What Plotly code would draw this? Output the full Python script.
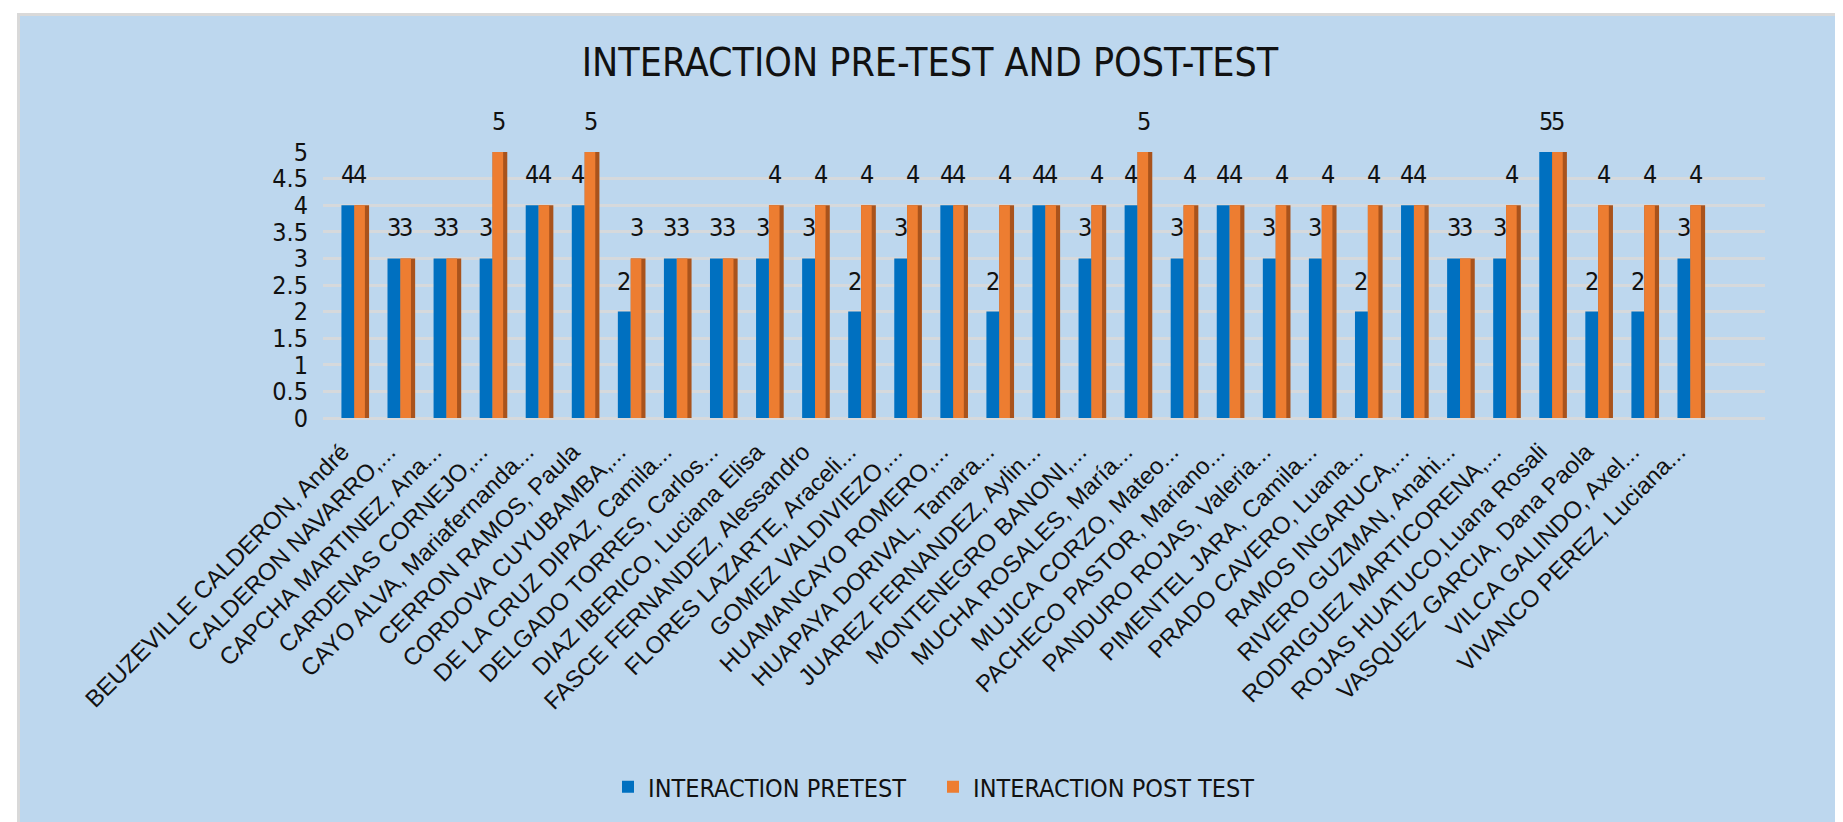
import plotly.graph_objects as go

students = [
    "BEUZEVILLE CALDERON, André",
    "CALDERON NAVARRO,...",
    "CAPCHA MARTINEZ, Ana...",
    "CARDENAS CORNEJO,...",
    "CAYO ALVA, Mariafernanda...",
    "CERRON RAMOS, Paula",
    "CORDOVA CUYUBAMBA,...",
    "DE LA CRUZ DIPAZ, Camila...",
    "DELGADO TORRES, Carlos...",
    "DIAZ IBERICO, Luciana Elisa",
    "FASCE FERNANDEZ, Alessandro",
    "FLORES LAZARTE, Araceli...",
    "GOMEZ VALDIVIEZO,...",
    "HUAMANCAYO ROMERO,...",
    "HUAPAYA DORIVAL, Tamara...",
    "JUAREZ FERNANDEZ, Aylin...",
    "MONTENEGRO BANONI,...",
    "MUCHA ROSALES, María...",
    "MUJICA CORZO, Mateo...",
    "PACHECO PASTOR, Mariano...",
    "PANDURO ROJAS, Valeria...",
    "PIMENTEL JARA, Camila...",
    "PRADO CAVERO, Luana...",
    "RAMOS INGARUCA,...",
    "RIVERO GUZMAN, Anahi...",
    "RODRIGUEZ MARTICORENA,...",
    "ROJAS HUATUCO,Luana Rosali",
    "VASQUEZ GARCIA, Dana Paola",
    "VILCA GALINDO, Axel...",
    "VIVANCO PEREZ, Luciana...",
]

pretest = [4, 3, 3, 3, 4, 4, 2, 3, 3, 3, 3, 2, 3, 4, 2,
           4, 3, 4, 3, 4, 3, 3, 2, 4, 3, 3, 5, 2, 2, 3]
posttest = [4, 3, 3, 5, 4, 5, 3, 3, 3, 4, 4, 4, 4, 4, 4,
            4, 4, 5, 4, 4, 4, 4, 4, 4, 3, 4, 5, 4, 4, 4]

y_ticks = [0, 0.5, 1, 1.5, 2, 2.5, 3, 3.5, 4, 4.5, 5]

title_text = "INTERACTION PRE-TEST AND POST-TEST"
name_pre = "INTERACTION PRETEST"
name_post = "INTERACTION POST TEST"

# ---- style ----
W, H = 1843, 822
L, R, T, B = 315, 86, 144, 412
BG = "#BDD7EE"
BLUE = "#0070C0"
ORANGE = "#ED7D31"
ORANGE_SIDE = "#A9531C"
GRID = "#D6D9DC"
NARROW = "Liberation Sans Narrow, DejaVu Sans Condensed, Arial Narrow, sans-serif"
REG = "Liberation Sans, Arial, sans-serif"

xs = list(range(len(students)))

fig = go.Figure()

# darker side face for the orange bars (3D look)
fig.add_trace(go.Bar(
    x=xs, y=posttest, width=0.32, offset=0.0,
    marker=dict(color=ORANGE_SIDE, line=dict(width=0)),
    showlegend=False, hoverinfo="skip",
))
fig.add_trace(go.Bar(
    x=xs, y=pretest, name=name_pre, width=0.28, offset=-0.28,
    marker=dict(color=BLUE, line=dict(width=0)),
))
fig.add_trace(go.Bar(
    x=xs, y=posttest, name=name_post, width=0.23, offset=0.0,
    marker=dict(color=ORANGE, line=dict(width=0)),
))

annotations = []
for i, (a, b) in enumerate(zip(pretest, posttest)):
    annotations.append(dict(x=i - 0.14, y=a, text=str(a), showarrow=False,
                            xref="x", yref="y", yanchor="bottom", yshift=14,
                            font=dict(family=NARROW, size=25, color="#111111")))
    annotations.append(dict(x=i + 0.13, y=b, text=str(b), showarrow=False,
                            xref="x", yref="y", yanchor="bottom", yshift=14,
                            font=dict(family=NARROW, size=25, color="#111111")))

pw = W - L - R
ph = H - T - B


def px_x(px):
    return (px - L) / pw


def px_y(py):
    return (H - B - py) / ph


shapes = [
    dict(type="rect", xref="paper", yref="paper", x0=px_x(0), x1=px_x(9),
         y0=px_y(H), y1=px_y(0), fillcolor="white", line=dict(width=0), layer="below"),
    dict(type="rect", xref="paper", yref="paper", x0=px_x(0), x1=px_x(W),
         y0=px_y(5), y1=px_y(0), fillcolor="white", line=dict(width=0), layer="below"),
    dict(type="rect", xref="paper", yref="paper", x0=px_x(9), x1=px_x(12),
         y0=px_y(H), y1=px_y(5), fillcolor="#D9D9D9", line=dict(width=0), layer="below"),
    dict(type="rect", xref="paper", yref="paper", x0=px_x(9), x1=px_x(W),
         y0=px_y(8), y1=px_y(5), fillcolor="#D9D9D9", line=dict(width=0), layer="below"),
]

fig.update_layout(
    width=W, height=H,
    paper_bgcolor=BG, plot_bgcolor=BG,
    margin=dict(l=L, r=R, t=T, b=B, autoexpand=False),
    barmode="overlay",
    title=dict(text=title_text, x=922 / W, xref="container", xanchor="center",
               y=1 - 54 / H, yref="container", yanchor="middle",
               font=dict(family=NARROW, size=39, color="#111111")),
    legend=dict(orientation="h", xref="container", yref="container",
                x=925 / W, y=1 - 779 / H, xanchor="center", yanchor="middle",
                font=dict(family=NARROW, size=25, color="#111111"),
                bgcolor="rgba(0,0,0,0)", itemwidth=30, traceorder="normal",
                entrywidth=280),
    annotations=annotations,
    shapes=shapes,
    showlegend=True,
)

fig.update_xaxes(
    tickmode="array", tickvals=xs, ticktext=students,
    range=[-0.68, 30.62], tickangle=-45,
    tickfont=dict(family=REG, size=24, color="#111111"),
    showgrid=False, zeroline=False, showline=False, ticks="",
    ticklabelstandoff=14, ticklabelshift=-12,
)
fig.update_yaxes(
    range=[0, 5], tickvals=y_ticks, ticktext=[f"{v:g}" for v in y_ticks],
    tickfont=dict(family=NARROW, size=25, color="#111111"),
    showgrid=True, gridcolor=GRID, gridwidth=3,
    zeroline=True, zerolinecolor=GRID, zerolinewidth=3,
    showline=False, ticks="", ticklabelstandoff=14,
)

fig.write_html("out.html")
